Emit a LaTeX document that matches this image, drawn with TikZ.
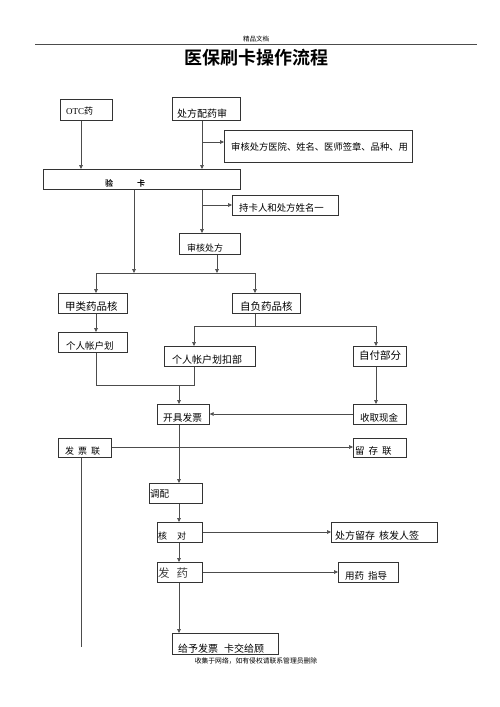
\documentclass[tikz,border=0pt]{standalone}
\usepackage{fontspec}
\setmainfont{Liberation Serif}
\newfontfamily\cjk{Noto Sans CJK SC}
\newfontfamily\cjkb{Noto Sans CJK SC Bold}
\usetikzlibrary{arrows.meta}
\begin{document}
\begin{tikzpicture}[x=1pt,y=-1pt,
 box/.style={draw=black!80, line width=0.7pt, inner sep=0pt, anchor=north west},
 lbl/.style={anchor=base west, inner sep=0pt, text=black},
 arr/.style={draw=black!70, line width=0.6pt, -{Triangle[length=4pt,width=3.6pt]}},
 ln/.style={draw=black!70, line width=0.6pt}]
\useasboundingbox[fill=white] (0,0) rectangle (500,707);
% header
\coordinate (hl) at (35,44);
\coordinate (hr) at (477,44);
\draw[line width=0.6pt, black!70] (hl) -- (hr);
\node[font=\cjk\fontsize{6.5}{6.5}\selectfont, anchor=base, inner sep=0pt] (hdr) at (256,41) {精品文档};
\node[font=\cjkb\fontsize{18}{18}\selectfont, anchor=base, inner sep=0pt] (title) at (256,64) {医保刷卡操作流程};
% boxes
\node[box, minimum width=52pt, minimum height=21pt] (otc) at (60,99) {};
\node[box, minimum width=68pt, minimum height=23pt] (cf) at (172,97) {};
\node[box, minimum width=188pt, minimum height=32pt] (sh) at (224,130) {};
\node[box, minimum width=197pt, minimum height=20pt] (yk) at (43,169) {};
\node[box, minimum width=106pt, minimum height=20pt] (ck) at (232,195) {};
\node[box, minimum width=61pt, minimum height=21pt] (shcf) at (179,233) {};
\node[box, minimum width=69pt, minimum height=20pt] (jl) at (58,293) {};
\node[box, minimum width=68pt, minimum height=20pt] (zf) at (232,293) {};
\node[box, minimum width=69pt, minimum height=20pt] (gr) at (58,332) {};
\node[box, minimum width=91pt, minimum height=20pt] (grk) at (164,346) {};
\node[box, minimum width=53pt, minimum height=20pt] (zfbf) at (353,346) {};
\node[box, minimum width=52pt, minimum height=20pt] (kj) at (157,404) {};
\node[box, minimum width=53pt, minimum height=20pt] (sq) at (353,404) {};
\node[box, minimum width=53pt, minimum height=19pt] (fpl) at (58,438) {};
\node[box, minimum width=53pt, minimum height=19pt] (lcl) at (353,438) {};
\node[box, minimum width=53pt, minimum height=20pt] (tp) at (149,483) {};
\node[box, minimum width=45pt, minimum height=20pt] (hd) at (157,522) {};
\node[box, minimum width=106pt, minimum height=20pt] (cflc) at (331,522) {};
\node[box, minimum width=45pt, minimum height=20pt] (fy) at (157,562) {};
\node[box, minimum width=60pt, minimum height=20pt] (yyzd) at (338,562) {};
\node[box, minimum width=106pt, minimum height=21pt] (gy) at (172,633) {};
% labels
\node[lbl, font=\fontsize{9}{9}\selectfont] (t1) at (66,114) {OTC{\cjk 药}};
\node[lbl, font=\cjk\fontsize{10}{10}\selectfont] (t2) at (177,117) {处方配药审};
\node[lbl, font=\cjk\fontsize{9.3}{9.3}\selectfont] (t3) at (231,150) {审核处方医院、姓名、医师签章、品种、用};
\node[lbl, font=\cjkb\fontsize{8}{8}\selectfont] (t4) at (105,186) {验\hspace{24pt}卡};
\node[lbl, font=\cjk\fontsize{9.4}{9.4}\selectfont] (t5) at (239,211) {持卡人和处方姓名一};
\node[lbl, font=\cjk\fontsize{9}{9}\selectfont] (t6) at (187,251) {审核处方};
\node[lbl, font=\cjk\fontsize{10.5}{10.5}\selectfont] (t7) at (65,310) {甲类药品核};
\node[lbl, font=\cjk\fontsize{10.5}{10.5}\selectfont] (t8) at (240,310) {自负药品核};
\node[lbl, font=\cjk\fontsize{9.5}{9.5}\selectfont] (t9) at (66,349) {个人帐户划};
\node[lbl, font=\cjk\fontsize{10}{10}\selectfont] (t10) at (172,363) {个人帐户划扣部};
\node[lbl, font=\cjk\fontsize{10.5}{10.5}\selectfont] (t11) at (359,359) {自付部分};
\node[lbl, font=\cjk\fontsize{9.7}{9.7}\selectfont] (t12) at (163,421) {开具发票};
\node[lbl, font=\cjk\fontsize{9.5}{9.5}\selectfont] (t13) at (360,421) {收取现金};
\node[lbl, font=\cjk\fontsize{9}{9}\selectfont] (t14) at (65,454) {发\hspace{4pt}票\hspace{4pt}联};
\node[lbl, font=\cjk\fontsize{9.5}{9.5}\selectfont] (t15) at (355,454) {留\hspace{4pt}存\hspace{4pt}联};
\node[lbl, font=\cjk\fontsize{9.5}{9.5}\selectfont] (t16) at (150,497) {调配};
\node[lbl, font=\cjk\fontsize{9}{9}\selectfont] (t17) at (158,539) {核\hspace{10pt}对};
\node[lbl, font=\cjk\fontsize{10}{10}\selectfont] (t18) at (335,539) {处方留存\hspace{4pt}核发人签};
\node[lbl, font=\cjk\fontsize{11.5}{11.5}\selectfont, text=black!75] (t19) at (158,577) {发\hspace{7pt}药};
\node[lbl, font=\cjk\fontsize{9.5}{9.5}\selectfont] (t20) at (345,579) {用药\hspace{4pt}指导};
\node[lbl, font=\cjk\fontsize{10}{10}\selectfont] (t21) at (178,652) {给予发票\hspace{6pt}卡交给顾};
% footer
\node[font=\cjk\fontsize{6.8}{6.8}\selectfont, anchor=base, inner sep=0pt] (ftr) at (256,663) {收集于网络，如有侵权请联系管理员删除};
% column / row helpers
\coordinate (xa) at (202,0);
\coordinate (xb) at (134,0);
\coordinate (xc) at (217,0);
\coordinate (xd) at (96,0);
\coordinate (xe) at (255,0);
\coordinate (xf) at (194,0);
\coordinate (xg) at (376,0);
\coordinate (xh) at (179,0);
\coordinate (xi) at (81,0);
\coordinate (ya) at (0,142);
\coordinate (yb) at (0,205);
\coordinate (yc) at (0,273);
\coordinate (yd) at (0,326);
\coordinate (ye) at (0,385);
\coordinate (yf) at (0,414);
\coordinate (yg) at (0,447);
\coordinate (yh) at (0,532);
\coordinate (yi) at (0,572);
\coordinate (yj) at (0,647);
% connectors
\draw[arr] (xi |- otc.south) -- (xi |- yk.north);
\draw[arr] (xa |- cf.south) -- (xa |- yk.north);
\draw[arr] (xa |- ya) -- (sh.west |- ya);
\draw[arr] (xb |- yk.south) -- (xb |- yc);
\draw[arr] (xa |- yk.south) -- (xa |- shcf.north);
\draw[arr] (xa |- yb) -- (ck.west |- yb);
\draw[arr] (xc |- shcf.south) -- (xc |- yc);
\draw[ln] (xd |- yc) -- (xe |- yc);
\draw[arr] (xd |- yc) -- (xd |- jl.north);
\draw[arr] (xe |- yc) -- (xe |- zf.north);
\draw[arr] (xd |- jl.south) -- (xd |- gr.north);
\draw[ln] (xe |- zf.south) -- (xe |- yd);
\draw[ln] (xf |- yd) -- (xg |- yd);
\draw[arr] (xf |- yd) -- (xf |- grk.north);
\draw[arr] (xg |- yd) -- (xg |- zfbf.north);
\draw[ln] (xd |- gr.south) -- (xd |- ye) -- (xf |- ye) -- (xf |- grk.south);
\draw[arr] (xh |- ye) -- (xh |- kj.north);
\draw[arr] (xg |- zfbf.south) -- (xg |- sq.north);
\draw[arr] (sq.west |- yf) -- (kj.east |- yf);
\draw[arr] (fpl.east |- yg) -- (lcl.west |- yg);
\draw[ln] (xi |- fpl.south) -- (xi |- yj);
\draw[arr] (xh |- kj.south) -- (xh |- tp.north);
\draw[arr] (xh |- tp.south) -- (xh |- hd.north);
\draw[arr] (hd.east |- yh) -- (cflc.west |- yh);
\draw[arr] (xh |- hd.south) -- (xh |- fy.north);
\draw[arr] (fy.east |- yi) -- (yyzd.west |- yi);
\draw[arr] (xh |- fy.south) -- (xh |- gy.north);
\end{tikzpicture}
\end{document}
